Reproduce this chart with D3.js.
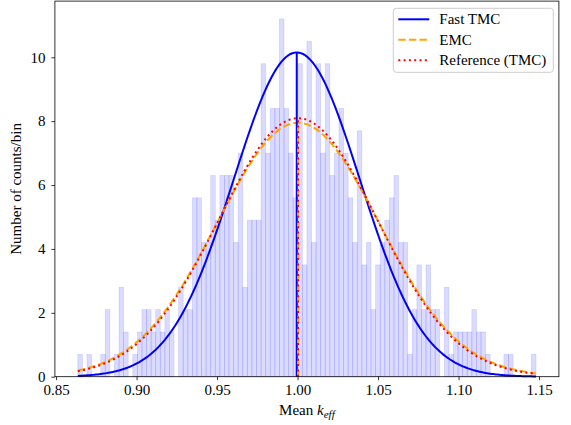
<!DOCTYPE html>
<html>
<head>
<meta charset="utf-8">
<script src="https://cdn.jsdelivr.net/npm/d3@7"></script>
<style>
  body { margin: 0; background: #fff; }
  svg { display: block; font-family: "Liberation Serif", "DejaVu Serif", serif; }
</style>
</head>
<body>
<svg id="chart" width="571" height="425"></svg>
<script>
// histogram: counts per bin (100 bins between min and max sample)
var binMin = 0.8635, binMax = 1.1481;
var counts = [
  1, 0, 1, 0, 0, 1, 3, 0, 1, 4,
  2, 0, 1, 2, 3, 3, 2, 3, 2, 3,
  2, 0, 4, 3, 3, 8, 8, 6, 6, 9,
  7, 9, 9, 9, 6, 10, 4, 7, 7, 7,
  14, 10, 12, 12, 16, 12, 10, 8, 14, 5,
  15, 6, 14, 10, 14, 9, 10, 12, 10, 8,
  6, 11, 5, 6, 3, 5, 6, 7, 8, 9,
  6, 6, 1, 3, 5, 3, 5, 3, 3, 0,
  4, 1, 2, 2, 2, 2, 3, 2, 2, 1,
  0, 0, 0, 1, 1, 0, 0, 0, 0, 1
];

// fitted normal curves (mean, std)
var seriesNames = ["Fast TMC", "EMC", "Reference (TMC)"];
var seriesMean = [0.9995, 1.0003, 1.0003];
var seriesStd = [0.0393, 0.0502, 0.0493];
var seriesColor = ["#0000ff", "#ffa500", "#ff0000"];

var xTicks = [0.85, 0.90, 0.95, 1.00, 1.05, 1.10, 1.15];
var yTicks = [0, 2, 4, 6, 8, 10];

var svg = d3.select("#chart");
var margin = {left: 54.9, right: 12.1, top: 1.1, bottom: 48.3};
var width = 571 - margin.left - margin.right;
var height = 425 - margin.top - margin.bottom;

var nBins = counts.length;
var binW = (binMax - binMin) / nBins;
var total = d3.sum(counts);
var bins = counts.map(function (c, i) {
  return {x0: binMin + i * binW, x1: binMin + (i + 1) * binW, h: c / (total * binW)};
});

var span = binMax - binMin;
var x = d3.scaleLinear().domain([binMin - span * 0.05, binMax + span * 0.05]).range([0, width]);
var y = d3.scaleLinear().domain([0, d3.max(bins, function (d) { return d.h; }) * 1.05]).range([height, 0]);

var g = svg.append("g").attr("transform", "translate(" + margin.left + "," + margin.top + ")");

// bars
g.selectAll(".bar").data(bins).join("rect")
  .attr("class", "bar")
  .attr("x", function (d) { return x(d.x0); })
  .attr("width", function (d) { return x(d.x1) - x(d.x0); })
  .attr("y", function (d) { return y(d.h); })
  .attr("height", function (d) { return y(0) - y(d.h); })
  .attr("fill", "#0000ff").attr("fill-opacity", 0.14)
  .attr("stroke", "#0000ff").attr("stroke-opacity", 0.12).attr("stroke-width", 0.8);

function pdf(v, m, s) {
  return Math.exp(-0.5 * Math.pow((v - m) / s, 2)) / (s * Math.sqrt(2 * Math.PI));
}

var xs = d3.range(0, 301).map(function (i) { return binMin + span * i / 300; });
var dashes = [null, "7.4,3.2", "2,3.3"];

var line = d3.line().x(function (d) { return x(d[0]); }).y(function (d) { return y(d[1]); });

seriesNames.forEach(function (name, k) {
  var pts = xs.map(function (v) { return [v, pdf(v, seriesMean[k], seriesStd[k])]; });
  g.append("path").datum(pts)
    .attr("d", line)
    .attr("fill", "none")
    .attr("stroke", seriesColor[k])
    .attr("stroke-width", 2)
    .attr("stroke-dasharray", dashes[k]);
});
// vertical lines at the means
seriesNames.forEach(function (name, k) {
  g.append("line")
    .attr("x1", x(seriesMean[k])).attr("x2", x(seriesMean[k]))
    .attr("y1", y(0)).attr("y2", y(pdf(seriesMean[k], seriesMean[k], seriesStd[k])))
    .attr("stroke", seriesColor[k])
    .attr("stroke-width", 2)
    .attr("stroke-dasharray", dashes[k]);
});

// axes
var xAxis = g.append("g").attr("transform", "translate(0," + height + ")")
  .call(d3.axisBottom(x).tickValues(xTicks).tickFormat(d3.format(".2f")).tickSizeOuter(0).tickSize(3.5).tickPadding(4));
var yAxis = g.append("g")
  .call(d3.axisLeft(y).tickValues(yTicks).tickFormat(d3.format("d")).tickSizeOuter(0).tickSize(3.5).tickPadding(6));
[xAxis, yAxis].forEach(function (a) {
  a.select(".domain").remove();
  a.selectAll("text").attr("font-size", 15).attr("font-family", "Liberation Serif").attr("fill", "#000");
  a.selectAll("line").attr("stroke", "#000").attr("stroke-width", 0.8);
});

// frame
g.append("rect").attr("width", width).attr("height", height)
  .attr("fill", "none").attr("stroke", "#000").attr("stroke-width", 0.8);

// labels
var xl = svg.append("text")
  .attr("x", margin.left + width / 2).attr("y", 415)
  .attr("text-anchor", "middle").attr("font-size", 15);
xl.append("tspan").text("Mean ");
xl.append("tspan").attr("font-style", "italic").text("k");
xl.append("tspan").attr("font-style", "italic").attr("font-size", 11).attr("dy", 3).text("eff");

svg.append("text")
  .attr("transform", "translate(21," + (margin.top + height / 2) + ") rotate(-90)")
  .attr("text-anchor", "middle").attr("font-size", 15)
  .text("Number of counts/bin");

// legend
var lg = svg.append("g").attr("transform", "translate(393.3,8.3)");
lg.append("rect").attr("width", 160).attr("height", 64).attr("rx", 3)
  .attr("fill", "#fff").attr("fill-opacity", 0.8)
  .attr("stroke", "#cccccc").attr("stroke-width", 1);
seriesNames.forEach(function (name, k) {
  var yy = 11 + k * 20.5;
  lg.append("line").attr("x1", 5).attr("x2", 36).attr("y1", yy).attr("y2", yy)
    .attr("stroke", seriesColor[k]).attr("stroke-width", 2)
    .attr("stroke-dasharray", dashes[k]);
  lg.append("text").attr("x", 46).attr("y", yy + 5).attr("font-size", 15).text(name);
});
</script>
</body>
</html>
